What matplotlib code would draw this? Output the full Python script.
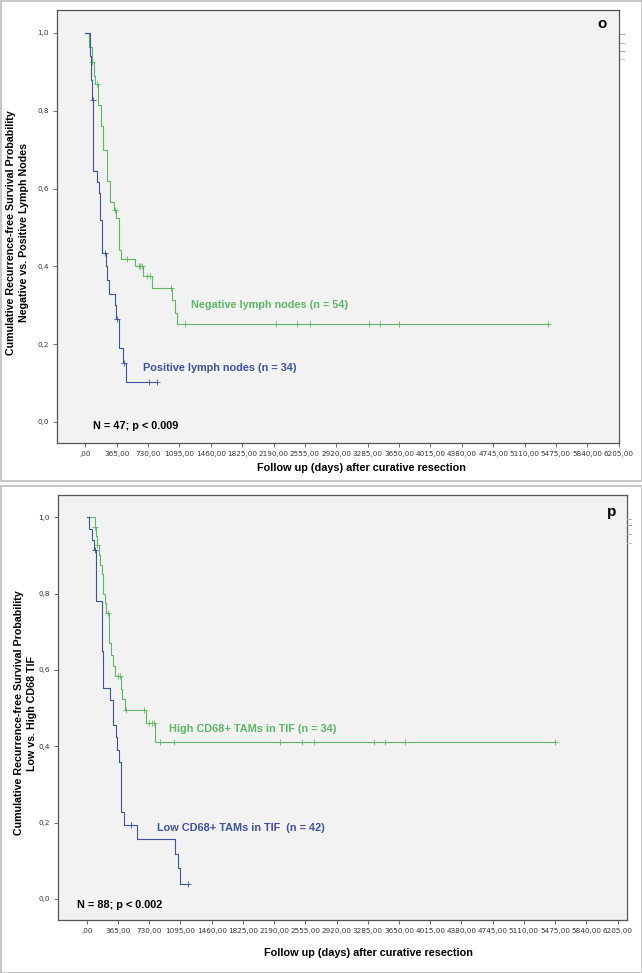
import numpy as np
import matplotlib
matplotlib.use("Agg")
import matplotlib.pyplot as plt
from matplotlib.lines import Line2D
from matplotlib.patches import Rectangle

plt.rcParams['font.family'] = ['Liberation Sans', 'DejaVu Sans']

# panel o: lymph nodes
neg_t = [0, 45, 75, 100, 113, 153, 180, 210, 249, 287, 335, 362, 396, 420, 578, 675, 772, 1005, 1043, 1071]
neg_s = [1.0, 0.963, 0.926, 0.889, 0.870, 0.815, 0.76, 0.70, 0.62, 0.565, 0.545, 0.524, 0.442, 0.42, 0.40,
         0.375, 0.345, 0.314, 0.281, 0.251]
neg_cens = [80, 132, 345, 485, 620, 636, 656, 714, 752, 997, 1160, 2215, 2462, 2610, 3295, 3426, 3647, 5380]

pos_t = [0, 50, 65, 75, 93, 140, 155, 171, 191, 241, 256, 279, 340, 352, 396, 435, 470]
pos_s = [1.0, 0.94, 0.88, 0.827, 0.646, 0.617, 0.589, 0.52, 0.434, 0.40, 0.364, 0.33, 0.30, 0.265, 0.19,
         0.152, 0.104]
pos_cens = [86, 229, 365, 450, 747, 830]

# panel p: CD68+ TAMs in TIF
high_t = [0, 96, 105, 115, 139, 154, 174, 193, 213, 224, 263, 283, 303, 330, 396, 408, 447, 692, 797]
high_s = [1.0, 0.974, 0.95, 0.926, 0.90, 0.874, 0.85, 0.80, 0.774, 0.748, 0.67, 0.64, 0.61, 0.584, 0.55,
          0.525, 0.495, 0.46, 0.412]
high_cens = [96, 123, 252, 368, 388, 459, 669, 731, 758, 786, 856, 1019, 2259, 2516, 2660, 3361, 3490,
             3720, 5473]

low_t = [0, 30, 60, 80, 104, 178, 182, 186, 271, 303, 345, 357, 376, 396, 435, 590, 1025, 1070, 1090]
low_s = [1.0, 0.97, 0.94, 0.913, 0.78, 0.69, 0.65, 0.553, 0.521, 0.455, 0.425, 0.39, 0.36, 0.229, 0.195,
         0.156, 0.118, 0.081, 0.04]
low_cens = [96, 513, 1187]

xticks = list(range(0, 6206, 365))
yticks = [0.0, 0.2, 0.4, 0.6, 0.8, 1.0]

green = '#5cb865'
blue = '#3f4fa1'
txt_size = 7.8


def km_curve(ax, t, s, cens, color):
    t_end = max(t[-1], max(cens))
    tt = list(t) + [t_end]
    ss = list(s) + [s[-1]]
    ax.step(tt, ss, where='post', color=color, lw=0.8)
    # censored marks take the survival value at their time
    cs = [s[np.searchsorted(t, c, side='right') - 1] for c in cens]
    ax.plot(cens, cs, '+', color=color, ms=4, mew=0.6)


def style_axes(ax, xlim, ylim):
    ax.set_facecolor('#f2f2f2')
    ax.set_xlim(*xlim)
    ax.set_ylim(*ylim)
    ax.set_xticks(xticks)
    ax.set_xticklabels([(',00' if v == 0 else f'{v},00') for v in xticks], fontsize=5.2,
                       family='DejaVu Sans', color='#333333')
    ax.set_yticks(yticks)
    ax.set_yticklabels([f'{v:.1f}'.replace('.', ',') for v in yticks], fontsize=5.2,
                       family='DejaVu Sans', color='#333333')
    ax.tick_params(direction='out', length=3, width=0.6, color='#555555', pad=3)
    for sp in ax.spines.values():
        sp.set_color('#555555')
        sp.set_linewidth(0.9)


fig = plt.figure(figsize=(6.42, 9.73), dpi=100)
fig.patch.set_facecolor('white')

# panel frames
fig.add_artist(Rectangle((0.5 / 642, 1 - 481 / 973), 641 / 642, 480.5 / 973, transform=fig.transFigure,
                         fill=False, edgecolor='#bdbdbd', lw=1.2))
fig.add_artist(Rectangle((0.5 / 642, 1 - 972.5 / 973), 641 / 642, 486.5 / 973, transform=fig.transFigure,
                         fill=False, edgecolor='#bdbdbd', lw=1.2))

# ---------- panel o ----------
ax1 = fig.add_axes([57 / 642, 1 - 443 / 973, 562 / 642, 433 / 973])
style_axes(ax1, (-329, 6209), (-0.054, 1.059))
km_curve(ax1, neg_t, neg_s, neg_cens, green)
km_curve(ax1, pos_t, pos_s, pos_cens, blue)
ax1.text(1230, 0.30, 'Negative lymph nodes (n = 54)', color=green, fontsize=txt_size, fontweight='bold',
         va='center')
ax1.text(668, 0.139, 'Positive lymph nodes (n = 34)', color=blue, fontsize=txt_size, fontweight='bold',
         va='center')
ax1.text(90, -0.01, 'N = 47; p < 0.009', color='black', fontsize=txt_size, fontweight='bold', va='center')
ax1.text(6007, 1.023, 'o', color='black', fontsize=11, fontweight='bold', ha='center', va='center')
ax1.set_ylabel('Cumulative Recurrence-free Survival Probability\nNegative vs. Positive Lymph Nodes',
               fontsize=7.7, fontweight='bold', linespacing=1.4)
ax1.yaxis.set_label_coords(-0.049, 0.485)
ax1.text(0.541, -0.058, 'Follow up (days) after curative resection', transform=ax1.transAxes,
         fontsize=txt_size, fontweight='bold', ha='center', va='center')

# ---------- panel p ----------
ax2 = fig.add_axes([58 / 642, 1 - 920 / 973, 569 / 642, 425 / 973])
style_axes(ax2, (-337, 6315), (-0.055, 1.058))
km_curve(ax2, high_t, high_s, high_cens, green)
km_curve(ax2, low_t, low_s, low_cens, blue)
ax2.text(964, 0.445, 'High CD68+ TAMs in TIF (n = 34)', color=green, fontsize=txt_size, fontweight='bold',
         va='center')
ax2.text(824, 0.186, 'Low CD68+ TAMs in TIF  (n = 42)', color=blue, fontsize=txt_size, fontweight='bold',
         va='center')
ax2.text(-118, -0.016, 'N = 88; p < 0.002', color='black', fontsize=txt_size, fontweight='bold', va='center')
ax2.text(6136, 1.014, 'p', color='black', fontsize=11, fontweight='bold', ha='center', va='center')
ax2.set_ylabel('Cumulative Recurrence-free Survival Probability\nLow vs. High CD68 TIF',
               fontsize=7.7, fontweight='bold', linespacing=1.4)
ax2.yaxis.set_label_coords(-0.037, 0.487)
ax2.text(0.545, -0.078, 'Follow up (days) after curative resection', transform=ax2.transAxes,
         fontsize=txt_size, fontweight='bold', ha='center', va='center')

# leftover legend dashes outside the plot frames
for y, c in [(34, '#9aa3cc'), (43, '#8fcf95'), (51, '#9aa3cc'), (59, '#a8d8ac')]:
    fig.add_artist(Line2D([620 / 642, 624 / 642], [1 - y / 973] * 2, color=c, lw=0.7))
for y, c in [(519, '#b0b0b0'), (525, '#9aa3cc'), (534, '#9aa3cc'), (543, '#a8d8ac')]:
    fig.add_artist(Line2D([627 / 642, 631 / 642], [1 - y / 973] * 2, color=c, lw=0.7))

fig.savefig('out.png', dpi=100)
